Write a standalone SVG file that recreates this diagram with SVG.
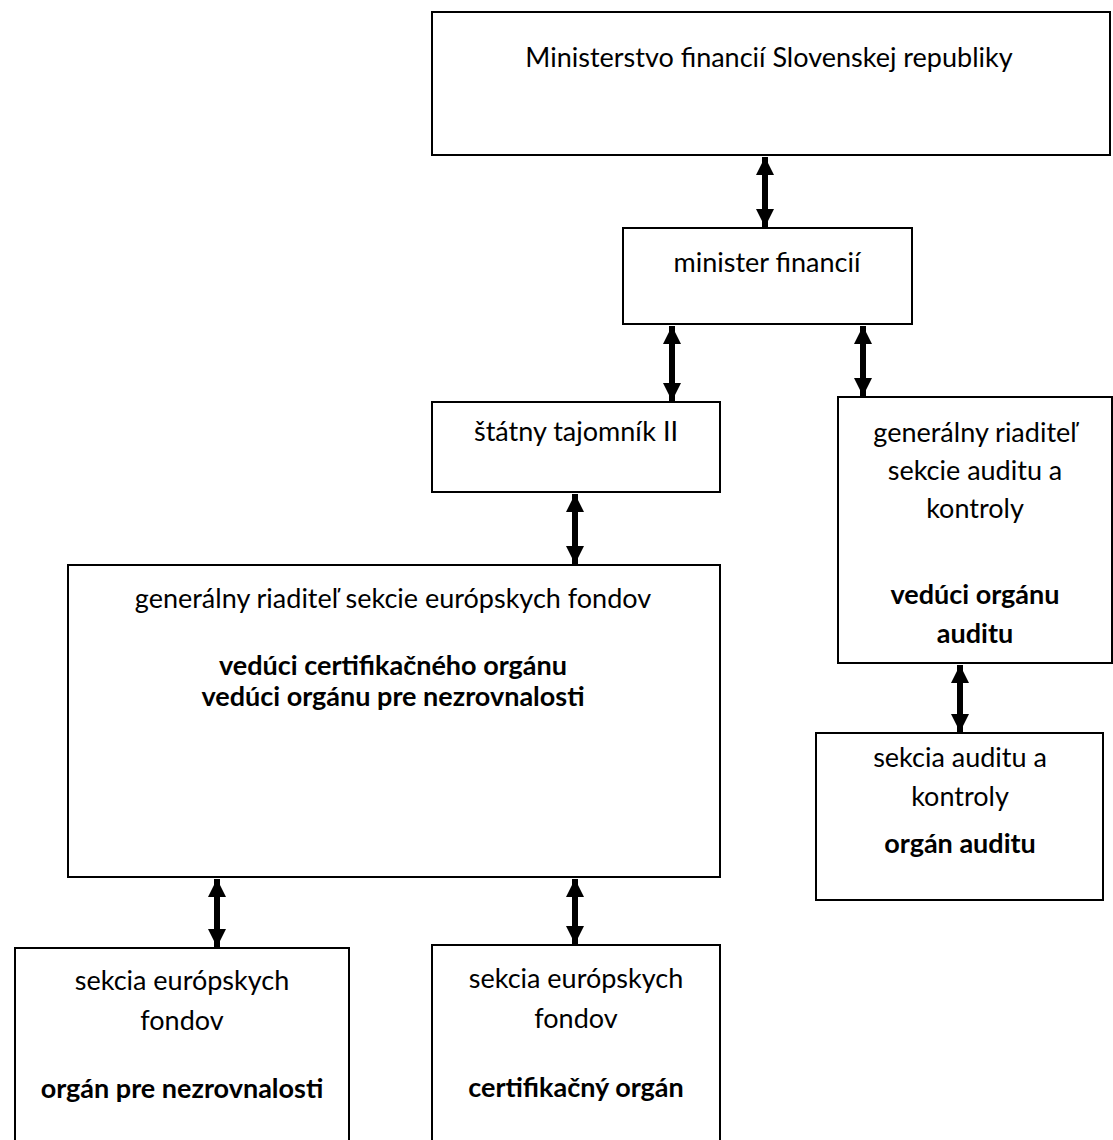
<svg xmlns="http://www.w3.org/2000/svg" width="1113" height="1140" viewBox="0 0 1113 1140">
<defs>
<style>
.box{fill:#fff;stroke:#000;stroke-width:2}
text{font-family:Lato,"Liberation Sans",sans-serif;font-size:27px;fill:#000;text-anchor:middle}
.b{font-weight:bold}
.arr{stroke:#000;stroke-width:6;fill:none;marker-start:url(#ah);marker-end:url(#ah)}
</style>
<marker id="ah" markerUnits="userSpaceOnUse" markerWidth="20" markerHeight="20" viewBox="0 0 20 20" refX="18" refY="10" orient="auto-start-reverse">
<path d="M0,1 L18,10 L0,19 Z" fill="#000"/>
</marker>
</defs>
<rect width="1113" height="1140" fill="#fff"/>
<g id="connectors">
<line class="arr" x1="765" y1="157" x2="765" y2="227"/>
<line class="arr" x1="672" y1="326" x2="672" y2="401"/>
<line class="arr" x1="863" y1="326" x2="863" y2="396"/>
<line class="arr" x1="575" y1="494" x2="575" y2="564"/>
<line class="arr" x1="960" y1="665" x2="960" y2="732"/>
<line class="arr" x1="217" y1="879" x2="217" y2="947"/>
<line class="arr" x1="575" y1="879" x2="575" y2="944"/>
</g>
<g id="n-ministerstvo">
<rect class="box" x="432" y="12" width="678" height="143"/>
<text x="769" y="67">Ministerstvo financií Slovenskej republiky</text>
</g>
<g id="n-minister">
<rect class="box" x="623" y="228" width="289" height="96"/>
<text x="767" y="272">minister financií</text>
</g>
<g id="n-statny">
<rect class="box" x="432" y="402" width="288" height="90"/>
<text x="576" y="441">štátny tajomník II</text>
</g>
<g id="n-gr-audit">
<rect class="box" x="838" y="397" width="274" height="266"/>
<text x="975" y="442">generálny riaditeľ</text>
<text x="975" y="480">sekcie auditu a</text>
<text x="975" y="518">kontroly</text>
<text class="b" x="975" y="604">vedúci orgánu</text>
<text class="b" x="975" y="643">auditu</text>
</g>
<g id="n-sekcia-audit">
<rect class="box" x="816" y="733" width="287" height="167"/>
<text x="960" y="767">sekcia auditu a</text>
<text x="960" y="806">kontroly</text>
<text class="b" x="960" y="853">orgán auditu</text>
</g>
<g id="n-gr-ef">
<rect class="box" x="68" y="565" width="652" height="312"/>
<text x="393" y="608">generálny riaditeľ sekcie európskych fondov</text>
<text class="b" x="393" y="675">vedúci certifikačného orgánu</text>
<text class="b" x="393" y="706">vedúci orgánu pre nezrovnalosti</text>
</g>
<g id="n-ef-nezrovnalosti">
<rect class="box" x="15" y="948" width="334" height="200"/>
<text x="182" y="990">sekcia európskych</text>
<text x="182" y="1030">fondov</text>
<text class="b" x="182" y="1098">orgán pre nezrovnalosti</text>
</g>
<g id="n-ef-certifikacny">
<rect class="box" x="432" y="945" width="288" height="200"/>
<text x="576" y="988">sekcia európskych</text>
<text x="576" y="1028">fondov</text>
<text class="b" x="576" y="1097">certifikačný orgán</text>
</g>
</svg>
